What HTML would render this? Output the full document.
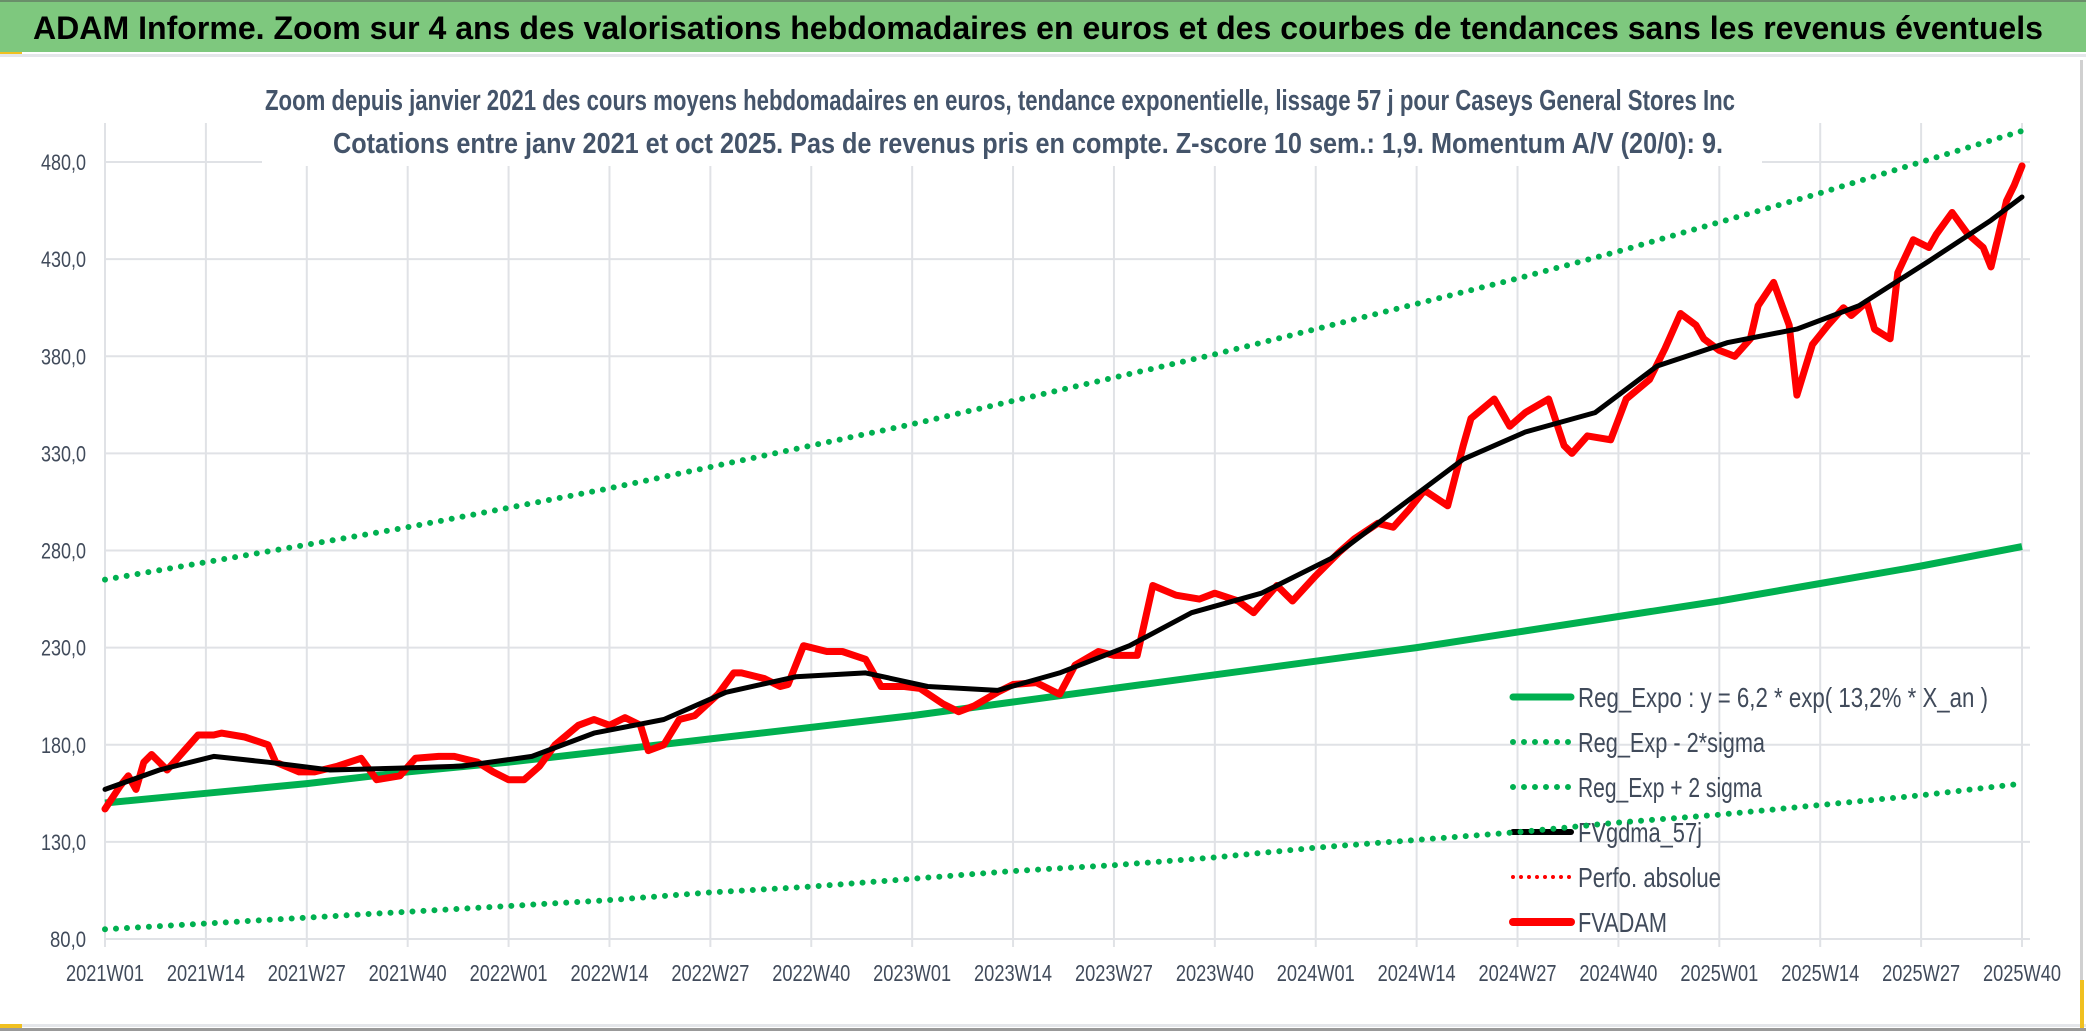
<!DOCTYPE html>
<html><head><meta charset="utf-8"><style>
html,body{margin:0;padding:0;background:#fff;}
svg{display:block;}
text{font-family:"Liberation Sans Narrow","Liberation Sans",sans-serif;}
</style></head><body>
<svg id="chart" width="2086" height="1031" viewBox="0 0 2086 1031" xmlns="http://www.w3.org/2000/svg">
<rect x="0" y="0" width="2086" height="1031" fill="#fff"/>
<rect x="0" y="0" width="2086" height="52" fill="#7ec87e"/>
<rect x="0" y="0" width="2086" height="2" fill="#6a8f6a"/>
<rect x="0" y="52" width="22" height="3" fill="#f0c020"/>
<rect x="0" y="54" width="2086" height="3" fill="#e4e6ea"/>
<text x="33" y="39" font-size="32" font-weight="bold" fill="#000" textLength="2010" lengthAdjust="spacingAndGlyphs">ADAM Informe. Zoom sur 4 ans des valorisations hebdomadaires en euros et des courbes de tendances sans les revenus éventuels</text>
<rect x="0" y="1024" width="2086" height="3" fill="#e4e6ea"/>
<rect x="0" y="1028" width="2086" height="3" fill="#999"/>
<rect x="0" y="1024" width="22" height="4" fill="#f0c020"/>
<rect x="2080" y="60" width="3" height="964" fill="#d0d0d0"/>
<rect x="2080" y="980" width="4" height="48" fill="#f0c020"/>
<g id="grid"></g>
<g id="axes"></g>
<rect x="262" y="70" width="1500" height="96" fill="#fff"/>
<text x="1000" y="110" text-anchor="middle" font-size="29" font-weight="bold" fill="#44546a" textLength="1470" lengthAdjust="spacingAndGlyphs">Zoom depuis janvier 2021 des cours moyens hebdomadaires en euros, tendance exponentielle, lissage 57 j pour Caseys General Stores Inc</text>
<text x="1028" y="153" text-anchor="middle" font-size="29" font-weight="bold" fill="#44546a" textLength="1390" lengthAdjust="spacingAndGlyphs">Cotations entre janv 2021 et oct 2025. Pas de revenus pris en compte. Z-score 10 sem.: 1,9. Momentum A/V (20/0): 9.</text>
<g id="legend"></g>
<g id="series"></g>
</svg>
<script>
const tickLabels = ["2021W01","2021W14","2021W27","2021W40","2022W01","2022W14","2022W27","2022W40","2023W01","2023W14","2023W27","2023W40","2024W01","2024W14","2024W27","2024W40","2025W01","2025W14","2025W27","2025W40"];
const yTicks = [80,130,180,230,280,330,380,430,480];
const bandWeeks = [0,13,26,39,52,65,78,91,104,117,130,143,156,169,182,195,208,221,234,247];
const regExpo = [150,155,160,166,171,177,183,189,195,202,209,216,223,230,238,246,254,263,272,282];
const regUpper = [265,274,283,292,302,312,323,334,345,357,369,381,394,407,420,434,449,464,480,496];
const regLower = [85,88,91,94,97,100,104,107,111,115,118,122,127,131,135,140,144,149,154,160];
const smaWeeks = [0,7,14,21,29,38,46,55,63,72,80,89,98,106,115,123,132,140,149,158,166,175,183,192,200,209,218,226,235,243,247];
const smaValues = [157,167,174,171,167,168,169,174,186,193,207,215,217,210,208,217,231,248,258,276,300,327,341,351,375,387,394,406,429,450,462];
const priceWeeks = [0,2,3,4,5,6,8,10,12,14,15,18,21,22,25,27,30,33,35,38,40,43,45,48,50,52,54,56,58,61,63,65,67,69,70,72,74,76,79,81,82,85,87,88,90,93,95,98,100,103,105,108,110,112,115,117,120,123,125,128,130,133,135,138,141,143,146,148,151,153,156,159,161,164,166,168,170,173,175,176,179,181,183,186,188,189,191,194,196,199,201,203,205,206,208,210,212,213,215,217,218,220,222,224,225,227,228,230,231,233,235,236,238,240,242,243,245,246,247];
const priceValues = [147,159,164,157,171,175,167,176,185,185,186,184,180,171,166,166,169,173,162,164,173,174,174,171,166,162,162,169,180,190,193,190,194,190,177,180,193,195,206,217,217,214,210,211,231,228,228,224,210,210,209,201,197,200,207,211,212,206,221,228,226,226,262,257,255,258,254,248,262,254,267,279,286,294,292,301,311,303,334,348,358,344,351,358,334,330,339,337,358,368,384,402,396,389,383,380,389,406,418,396,360,386,396,405,401,408,394,389,423,440,436,443,454,443,436,426,460,468,478];

const NS="http://www.w3.org/2000/svg";
const X0=105, X1=2022, Y0=939, Y480=162;
const xs = w => X0 + w*(X1-X0)/247;
const ys = v => Y0 - (v-80)*(Y0-Y480)/400;
function mk(tag, attrs, parent){const e=document.createElementNS(NS,tag);for(const k in attrs)e.setAttribute(k,attrs[k]);parent.appendChild(e);return e;}
const grid=document.getElementById('grid'), axes=document.getElementById('axes'), series=document.getElementById('series'), legend=document.getElementById('legend');

yTicks.forEach(v=>{
  const l=mk('line',{x1:X0,x2:2030,y1:ys(v),y2:ys(v),stroke:'#e0e2e6','stroke-width':2},grid);
  
  
  const s=v.toFixed(1).replace('.',',');
  const t=mk('text',{x:86,y:ys(v)+8,'text-anchor':'end','font-size':22,fill:'#404a5a',textLength:s.length*9,lengthAdjust:'spacingAndGlyphs'},axes);
  t.textContent=s;
  
  
});
tickLabels.forEach((lab,i)=>{
  const w=i*13;
  const l=mk('line',{x1:xs(w),x2:xs(w),y1:123,y2:947,stroke:'#e0e2e6','stroke-width':2},grid);
  
  
  const t=mk('text',{x:xs(w),y:981,'text-anchor':'middle','font-size':23,fill:'#404a5a',textLength:78,lengthAdjust:'spacingAndGlyphs'},axes);
  t.textContent=lab;
  
  
});

function pts(ws,vs){return ws.map((w,i)=>xs(w).toFixed(1)+','+ys(vs[i]).toFixed(1)).join(' ');}

const legItems=[
 ['Reg_Expo : y = 6,2 * exp( 13,2% *  X_an )','#00b050',7,null,410],
 ['Reg_Exp - 2*sigma','#00b050',6,'0 11',187],
 ['Reg_Exp + 2 sigma','#00b050',6,'0 11',184],
 ['FVgdma_57j','#000',6,null,124],
 ['Perfo. absolue','#ff0000',4,'0 8',143],
 ['FVADAM','#ff0000',8,null,89]];
legItems.forEach((it,i)=>{
  const y=697+i*45;
  const a={x1:1513,x2:1571,y1:y,y2:y,stroke:it[1],'stroke-width':it[2],'stroke-linecap':'round'};
  if(it[3])a['stroke-dasharray']=it[3];
  const l=mk('line',a,legend);
  
  
  const t=mk('text',{x:1578,y:y+10,'font-size':28,fill:'#404a5a',textLength:it[4],lengthAdjust:'spacingAndGlyphs'},legend);
  t.textContent=it[0];
  
  
});

const up=mk('polyline',{points:pts(bandWeeks,regUpper),fill:'none',stroke:'#00b050','stroke-width':6,'stroke-linecap':'round','stroke-dasharray':'0 11'},series);


const lo=mk('polyline',{points:pts(bandWeeks,regLower),fill:'none',stroke:'#00b050','stroke-width':6,'stroke-linecap':'round','stroke-dasharray':'0 11'},series);


const rg=mk('polyline',{points:pts(bandWeeks,regExpo),fill:'none',stroke:'#00b050','stroke-width':7,'stroke-linejoin':'round'},series);


const pr=mk('polyline',{points:pts(priceWeeks,priceValues),fill:'none',stroke:'#ff0000','stroke-width':7,'stroke-linejoin':'round','stroke-linecap':'round'},series);


const sm=mk('polyline',{points:pts(smaWeeks,smaValues),fill:'none',stroke:'#000','stroke-width':5,'stroke-linejoin':'round','stroke-linecap':'round'},series);


</script>
</body></html>
